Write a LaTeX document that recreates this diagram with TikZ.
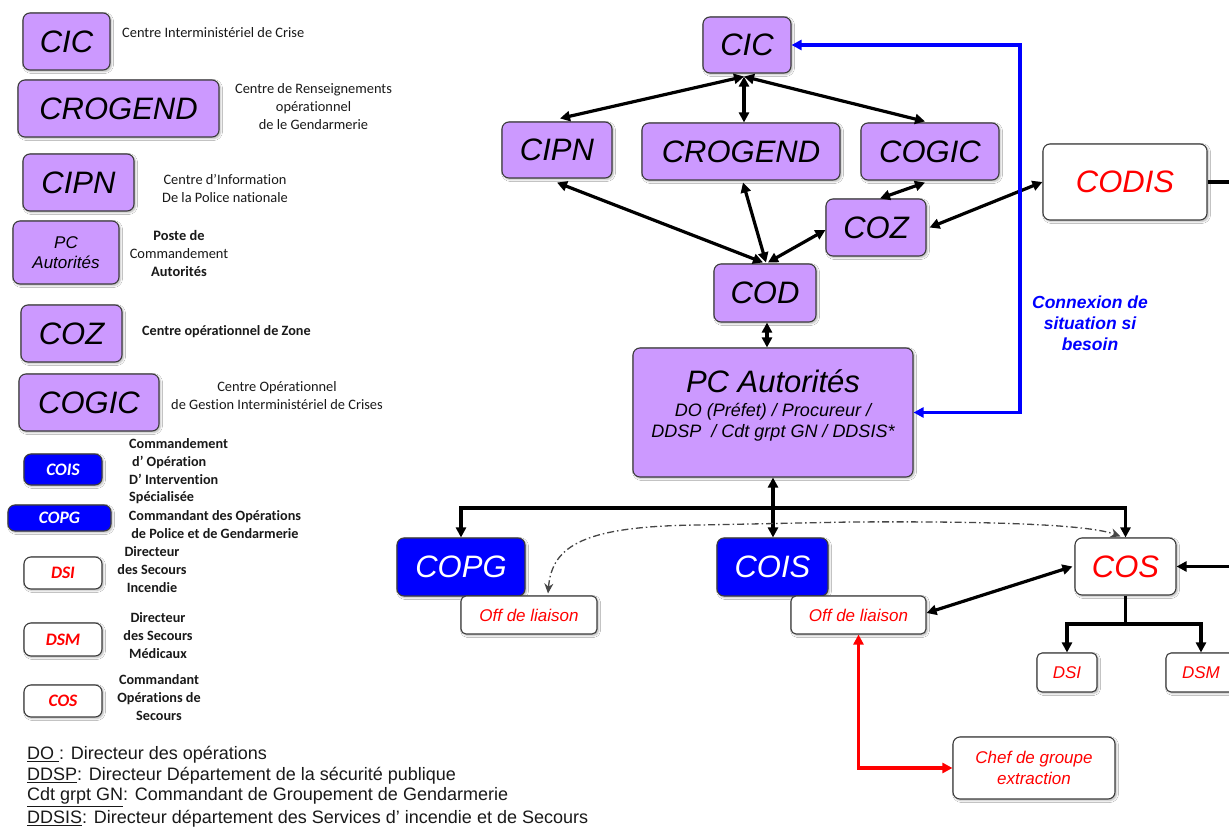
\documentclass[tikz,border=0pt]{standalone}
\usepackage{fontspec}
\setmainfont{Liberation Sans}
\newfontfamily\calib[Ligatures=NoCommon]{Carlito}
\usetikzlibrary{arrows.meta,shadows.blur,calc}
\definecolor{lav}{RGB}{204,153,255}
\definecolor{bordc}{RGB}{60,60,60}
\definecolor{pblue}{RGB}{0,0,255}
\definecolor{pred}{RGB}{255,0,0}
\definecolor{ddgrey}{RGB}{70,70,70}
\definecolor{txt}{RGB}{25,25,25}
\tikzset{
  box/.style={draw=bordc, line width=1.1pt, rounded corners=7pt, inner sep=0pt,
    blur shadow={shadow xshift=1.5pt, shadow yshift=-1.5pt, shadow blur radius=2pt, shadow opacity=30}},
  big/.style={font=\fontsize{31}{36}\selectfont\itshape},
  purp/.style={box, fill=lav, big},
  bluebox/.style={box, fill=pblue, text=white},
  whitebox/.style={box, fill=white, text=pred},
  small/.style={font=\fontsize{17}{21}\selectfont\itshape},
  legbox/.style={font=\calib\bfseries\itshape\fontsize{17.5}{20}\selectfont},
  desc/.style={font=\calib\fontsize{14.4}{18}\selectfont, inner sep=0pt, text=txt},
  descb/.style={font=\calib\bfseries\fontsize{14.2}{17.6}\selectfont, inner sep=0pt, text=txt},
  foot/.style={font=\fontsize{18}{21}\selectfont, anchor=west, inner sep=0pt, text=txt},
  tipb/.tip={Triangle[length=10pt,width=10pt]},
  biarr/.style={line width=3.2pt, tipb-tipb},
  onearr/.style={line width=3.2pt, -tipb},
  plainln/.style={line width=3.2pt},
  bluearr/.style={draw=pblue, line width=3.2pt, tipb-tipb},
  redarr/.style={draw=pred, line width=3.2pt, tipb-tipb},
  dd/.style={draw=ddgrey, line width=1.3pt, dash pattern=on 7pt off 3pt on 1.5pt off 3pt,
    {Stealth[length=10pt,width=9pt]}-{Stealth[length=10pt,width=9pt]}}
}
\begin{document}
\begin{tikzpicture}[x=1pt,y=-1pt]
\fill[white] (0,0) rectangle (1229,829);
\useasboundingbox (0,0) rectangle (1229,829);

% ---------------- Legend ----------------
\node[purp, minimum width=87pt, minimum height=57pt] (lcic) at (66.5,41.5) {CIC};
\node[purp, minimum width=201pt, minimum height=57pt] (lcrogend) at (118.5,108.5) {CROGEND};
\node[purp, minimum width=111pt, minimum height=57pt] (lcipn) at (78.5,182.5) {CIPN};
\node[box, fill=lav, minimum width=106pt, minimum height=63pt, align=center,
      font=\fontsize{17}{20}\selectfont\itshape] (lpc) at (66,252.5) {PC\\Autorités};
\node[purp, minimum width=101pt, minimum height=57pt] (lcoz) at (71.5,333.5) {COZ};
\node[purp, minimum width=140pt, minimum height=57pt] (lcogic) at (89,402.5) {COGIC};
\node[bluebox, legbox, minimum width=78pt, minimum height=31pt] (lcois) at (63,469.5) {COIS};
\node[bluebox, legbox, minimum width=103pt, minimum height=26pt] (lcopg) at (59.5,518) {COPG};
\node[whitebox, legbox, minimum width=78pt, minimum height=32pt] (ldsi) at (63,573) {DSI};
\node[whitebox, legbox, minimum width=78pt, minimum height=33pt] (ldsm) at (63,639.5) {DSM};
\node[whitebox, legbox, minimum width=78pt, minimum height=32pt] (lcos) at (63,701) {COS};

\node[desc, anchor=west] (dcic) at (122,33) {Centre Interministériel de Crise};
\node[desc, align=center] (dcrogend) at (313.5,107) {Centre de Renseignements\\opérationnel\\de le Gendarmerie};
\node[desc, align=center] (dcipn) at (225,188) {Centre d’Information\\De la Police nationale};
\node[desc, align=center] (dpc) at (179,253.5) {{\bfseries Poste de}\\Commandement\\{\bfseries Autorités}};
\node[descb, anchor=west] (dcoz) at (142,332) {Centre opérationnel de Zone};
\node[desc, align=center] (dcogic) at (277,396) {Centre Opérationnel\\de Gestion Interministériel de Crises};
\node[descb, align=left, anchor=west] (dcois) at (129,471.5) {Commandement\\\hspace{3pt}d’ Opération\\D’ Intervention\\Spécialisée};
\node[descb, align=center] (dcopg) at (215,524.5) {Commandant des Opérations\\de Police et de Gendarmerie};
\node[descb, align=center] (ddsi) at (152,569.5) {Directeur\\des Secours\\Incendie};
\node[descb, align=center] (ddsm) at (158,635.5) {Directeur\\des Secours\\Médicaux};
\node[descb, align=center] (dcos) at (159,697.5) {Commandant\\Opérations de\\Secours};

\node[foot] (f1) at (27,755) {\underline{DO\ }: Directeur des opérations};
\node[foot] (f2) at (27,776) {\underline{DDSP}: Directeur Département de la sécurité publique};
\node[foot] (f3) at (27,797) {\underline{Cdt grpt GN}: Commandant de Groupement de Gendarmerie};
\node[foot] (f4) at (27,819) {\underline{DDSIS}: Directeur département des Services d’ incendie et de Secours};

% ---------------- Main diagram ----------------
\node[purp, minimum width=88pt, minimum height=56pt] (cic) at (747,45) {CIC};
\node[purp, minimum width=110pt, minimum height=56pt] (cipn) at (557,150) {CIPN};
\node[purp, minimum width=198pt, minimum height=57pt] (crogend) at (741,151.5) {CROGEND};
\node[purp, minimum width=138pt, minimum height=57pt] (cogic) at (930,151.5) {COGIC};
\node[purp, minimum width=100pt, minimum height=57pt] (coz) at (876,227.5) {COZ};
\node[purp, minimum width=102pt, minimum height=58pt] (cod) at (765,293) {COD};
\node[box, fill=lav, minimum width=280pt, minimum height=129pt] (pc) at (773,412.5) {};
\node[align=center, inner sep=0pt, font=\fontsize{18}{21}\selectfont\itshape, text=black] (pctext) at (773,405)
  {{\fontsize{31}{36}\selectfont PC Autorités}\\[3pt]DO (Préfet) / Procureur /\\DDSP\ \ / Cdt grpt GN / DDSIS*};
\node[whitebox, big, minimum width=164pt, minimum height=76pt] (codis) at (1125,182) {CODIS};
\node[bluebox, big, minimum width=128pt, minimum height=58pt] (copg) at (461,567) {COPG};
\node[bluebox, big, minimum width=111pt, minimum height=58pt] (cois) at (772.5,567) {COIS};
\node[whitebox, big, minimum width=101pt, minimum height=57pt] (cos) at (1125.5,566.5) {COS};
\node[whitebox, small, rounded corners=5pt, minimum width=136pt, minimum height=38pt] (off1) at (529,615) {Off de liaison};
\node[whitebox, small, rounded corners=5pt, minimum width=135pt, minimum height=38pt] (off2) at (858.5,615) {Off de liaison};
\node[whitebox, small, rounded corners=5pt, minimum width=60pt, minimum height=39pt] (dsi) at (1067,672.5) {DSI};
\node[whitebox, small, rounded corners=5pt, minimum width=70pt, minimum height=39pt] (dsm) at (1201,672.5) {DSM};
\node[whitebox, small, align=center, minimum width=162pt, minimum height=62pt] (chef) at (1034,768) {Chef de groupe\\extraction};
\node[align=center, text=pblue, font=\fontsize{17.5}{21}\selectfont\bfseries\itshape] (conn) at (1090,323) {Connexion de\\situation si\\besoin};

% connectors
\draw[biarr] ([xshift=-3pt,yshift=-3pt]cic.south) -- ([xshift=3pt,yshift=3pt]cipn.north);
\draw[biarr] ([xshift=-3pt,yshift=-3pt]cic.south) -- ([xshift=3pt]crogend.north);
\draw[biarr] ([xshift=-3pt,yshift=-3pt]cic.south) -- ([xshift=-5pt,yshift=1pt]cogic.north);
\draw[biarr] ([yshift=-4pt]cipn.south) -- ([xshift=-2pt,yshift=1pt]cod.north);
\draw[biarr] ([xshift=2pt,yshift=-2pt]crogend.south) -- ([xshift=1pt,yshift=1pt]cod.north);
\draw[biarr] ([yshift=-2.5pt]coz.west) -- ([xshift=3pt,yshift=1pt]cod.north);
\draw[biarr] ([xshift=-5pt,yshift=-2pt]cogic.south) -- ([xshift=4pt]coz.north);
\draw[biarr] ([xshift=3pt]coz.east) -- (codis.west);
\draw[biarr] ([xshift=2pt]cod.south) -- ([xshift=2pt]cod.south |- pc.north);
\draw[biarr] (pc.south) -- (cois.north -| pc.south);
\coordinate (bus) at (773,508);
\draw[onearr] (bus) -| (copg.north);
\draw[onearr] (bus) -| (cos.north);
\coordinate (offr) at (1245,566.5);
\draw[onearr] (codis.east) -| (offr) -- (cos.east);
\draw[biarr] ([xshift=-2pt]cos.west) -- ([yshift=2pt]off2.east);
\coordinate (cosb) at (1125.5,624);
\draw[plainln] (cos.south) -- (cosb);
\draw[onearr] (cosb) -| (dsi.north);
\draw[onearr] (cosb) -| (dsm.north);
\draw[redarr] (off2.south) |- (chef.west);
\coordinate (bluetop) at (1020,45);
\draw[bluearr] (cic.east) -- (bluetop) |- (pc.east);
\draw[dd] ([xshift=19pt,yshift=2pt]off1.north) .. controls (552,545) and (585,526) .. (700,525)
   -- (850,522) .. controls (1000,521) and (1090,525) .. ([xshift=-5pt,yshift=1pt]cos.north);
\end{tikzpicture}
\end{document}
